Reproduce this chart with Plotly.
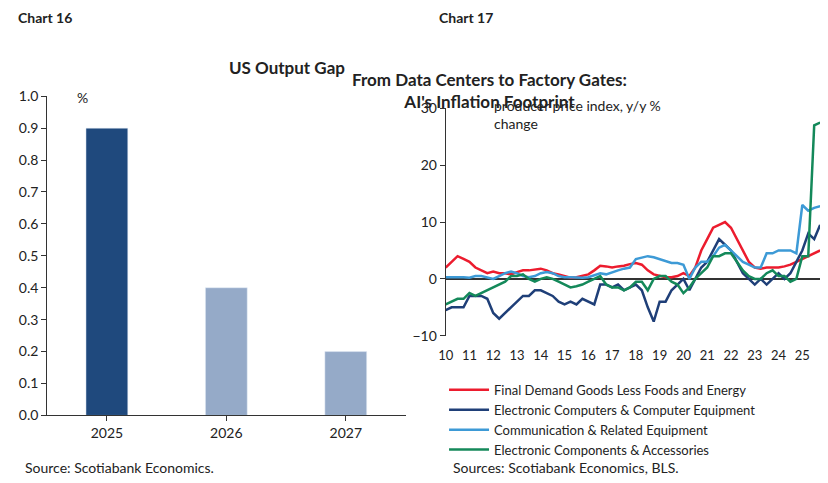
import plotly.graph_objects as go

years = ["2025", "2026", "2027"]
outputGap = [0.9, 0.4, 0.2]
barColors = ["#1f497d", "#95aac8", "#95aac8"]

quarters = [2010 + i * 0.25 for i in range(64)]

finalDemand = [2, 3, 4, 3.5, 3, 2, 1.5, 1, 1.3, 1, 1, 0.8, 1.2, 1.5, 1.5, 1.7,
               1.8, 1.5, 1, 0.8, 0.5, 0.2, 0.3, 0.5, 0.8, 1.5, 2.3, 2.2, 2, 2.2, 2.3, 2.6,
               2.8, 2.5, 1.5, 0.8, 0.5, 0.3, 0.3, 0.5, 1, 0.5, 2, 5, 7, 9, 9.5, 10,
               9, 7, 5, 3, 2, 1.8, 2, 2, 2, 2.2, 2.5, 3, 3.5, 4, 4.5, 5]
computers = [-5.5, -5, -5, -5, -3, -3, -3, -3.5, -6, -7, -6, -5, -4, -3, -3, -2,
             -2, -2.5, -3, -4, -4.5, -4, -4.5, -3.5, -4, -4.5, -1, -1, -1.5, -1, -2, -1.5,
             -1, -2, -5, -7.5, -4, -4, -2, -1, 0, -2, 0, 2, 3, 5, 7, 6,
             5, 3, 1, 0, -1, 0, -1, 0, 1, 0, 1, 3, 5, 8, 7, 9.5]
communication = [0.3, 0.3, 0.4, 0.3, 0.2, 0.5, 0.5, 0.3, 0, 0.5, 1, 1.3, 1, 0.5, 0.3, 0.5,
                 1, 1.2, 1, 0.5, 0.3, 0.3, 0.2, 0.2, 0.3, 0.6, 1, 0.8, 1.2, 1.5, 1.8, 2,
                 3.5, 3.8, 4, 3.8, 3.5, 3.2, 2.8, 2.8, 2.5, 0, 2, 3, 3, 4, 5.5, 6,
                 5, 4, 3, 2.5, 2, 2, 4.5, 4.5, 5, 5, 5, 4.5, 13, 12, 12.5, 12.8]
components = [-4.5, -4, -3.5, -3.5, -2.5, -3, -2.5, -2, -1.5, -1, -0.5, 0.5, 0.5, 0.8, 0, -0.5,
              0, 0.3, 0, -0.5, -1, -1.5, -1.3, -1, -0.5, 0, 0.5, -1, -1.5, -1.5, -2, -1.5,
              -0.5, -0.5, -2, 0, 0.5, 0.5, -0.5, -1, -2.5, -1.5, 0, 1, 2, 4, 4, 4.5,
              4.5, 3, 1.5, 0.5, 0, 0, 1, 1.5, 0.5, 0.5, -0.5, 0, 4, 4, 27, 27.5]

seriesNames = ["Final Demand Goods Less Foods and Energy",
               "Electronic Computers & Computer Equipment",
               "Communication & Related Equipment",
               "Electronic Components & Accessories"]
seriesColors = ["#ec1c2e", "#1f3f78", "#3d9ad6", "#14895a"]
yearTicks = list(range(2010, 2026))
yearLabels = [str(y)[2:] for y in yearTicks]

font = "Lato, Noto Sans, sans-serif"
fig = go.Figure()
fig.add_trace(go.Bar(x=years, y=outputGap, marker_color=barColors, width=0.35,
                     showlegend=False, xaxis="x", yaxis="y"))
for name, vals, col in zip(seriesNames, [finalDemand, computers, communication, components], seriesColors):
    fig.add_trace(go.Scatter(x=quarters, y=vals, name=name, mode="lines",
                             line=dict(color=col, width=2.5), xaxis="x2", yaxis="y2"))

fig.update_layout(
    width=828, height=483, margin=dict(l=0, r=0, t=0, b=0),
    plot_bgcolor="white", paper_bgcolor="white",
    font=dict(family=font, size=14, color="#222"),
    xaxis=dict(domain=[0.038, 0.475], showline=True, linecolor="#333", ticks="outside",
               tickcolor="#333", anchor="y"),
    yaxis=dict(domain=[0.145, 0.83], range=[0, 1.0], dtick=0.1, tickformat=".1f",
               showline=True, linecolor="#333", ticks="outside", tickcolor="#333",
               showgrid=False, zeroline=False, anchor="x"),
    xaxis2=dict(domain=[0.524, 0.985], range=[2010, 2025.9], tickvals=yearTicks,
                ticktext=yearLabels, showgrid=False, zeroline=False, anchor="y2",
                ticks="outside", ticklen=8, tickcolor="white", tickfont=dict(size=13)),
    yaxis2=dict(domain=[0.316, 0.804], range=[-10, 30], dtick=10, showline=True,
                linecolor="#333", ticks="outside", tickcolor="#333", showgrid=False,
                zeroline=True, zerolinecolor="#333", zerolinewidth=1.5, anchor="x2"),
    legend=dict(x=0.522, y=0.232, xanchor="left", yanchor="top", font=dict(size=13),
                tracegroupgap=0, itemwidth=40, bgcolor="rgba(0,0,0,0)"),
    annotations=[
        dict(text="<b>Chart 16</b>", x=0.0, y=1.0, xref="paper", yref="paper",
             xanchor="left", yanchor="middle", showarrow=False, font=dict(size=14)),
        dict(text="<b>Chart 17</b>", x=0.514, y=1.0, xref="paper", yref="paper",
             xanchor="left", yanchor="middle", showarrow=False, font=dict(size=14)),
        dict(text="<b>US Output Gap</b>", x=0.257, y=0.919, xref="paper", yref="paper",
             showarrow=False, font=dict(size=17)),
        dict(text="<b>From Data Centers to Factory Gates:<br>AI's Inflation Footprint</b>",
             x=0.748, y=0.893, xref="paper", yref="paper", showarrow=False,
             font=dict(size=17)),
        dict(text="%", x=0.072, y=0.828, xref="paper", yref="paper", xanchor="left",
             yanchor="middle", showarrow=False),
        dict(text="producer price index, y/y %<br>change", x=0.581, y=0.832,
             xref="paper", yref="paper", xanchor="left", yanchor="top", align="left",
             showarrow=False),
        dict(text="Source: Scotiabank Economics.", x=0.008, y=0.033, xref="paper",
             yref="paper", xanchor="left", yanchor="middle", showarrow=False),
        dict(text="Sources: Scotiabank Economics, BLS.", x=0.53, y=0.033, xref="paper",
             yref="paper", xanchor="left", yanchor="middle", showarrow=False),
    ],
)

fig.write_html("out.html")
